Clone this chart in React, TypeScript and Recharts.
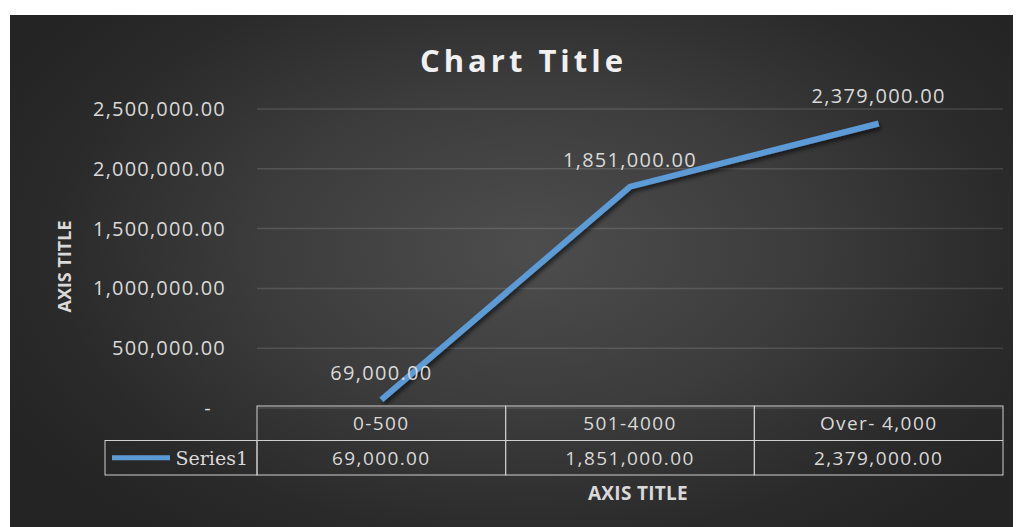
import React from 'react';
import { LineChart, Line, XAxis, YAxis, CartesianGrid, LabelList } from 'recharts';

const categories = ['0-500', '501-4000', 'Over- 4,000'];
const series1 = [69000, 1851000, 2379000];
const yTicks = [0, 500000, 1000000, 1500000, 2000000, 2500000];
const seriesName = 'Series1';
const chartTitle = 'Chart Title';
const xAxisTitle = 'AXIS TITLE';
const yAxisTitle = 'AXIS TITLE';

const data = categories.map((c, i) => ({ name: c, value: series1[i] }));

const fmt = (v: number) =>
  v.toLocaleString('en-US', { minimumFractionDigits: 2, maximumFractionDigits: 2 });

const W = 1003;
const H = 512;
const M_TOP = 94;
const Y_W = 247;
const X_H = 119;
const M_RIGHT = 10;
const BAND = (W - Y_W - M_RIGHT) / categories.length;
const LINE_COLOR = '#5B9BD5';
const TEXT = '#d9d9d9';
const BORDER = '#cfcfcf';
const FONT = '"Open Sans", sans-serif';

const YTick = (props: any) => {
  const { x, y, payload } = props;
  const v = payload.value as number;
  return (
    <text
      x={v === 0 ? x - 14 : x}
      y={y}
      dy={7}
      textAnchor="end"
      fill={TEXT}
      fontSize={20}
      fontFamily={FONT}
      letterSpacing={1.2}
    >
      {v === 0 ? '-' : fmt(v)}
    </text>
  );
};

const TableTick = (props: any) => {
  const { x, y, payload, index } = props;
  const top = y - 2;
  const rowH = 34.5;
  const left = x - BAND / 2;
  const val = series1[index];
  return (
    <g>
      <rect x={left} y={top} width={BAND} height={rowH * 2} fill="none" stroke={BORDER} strokeWidth={1} />
      <line x1={left} x2={left + BAND} y1={top + rowH} y2={top + rowH} stroke={BORDER} strokeWidth={1} />
      <text x={x} y={top + rowH / 2 + 7} textAnchor="middle" fill={TEXT} fontSize={19} fontFamily={FONT} letterSpacing={1.4}>
        {payload.value}
      </text>
      <text x={x} y={top + rowH * 1.5 + 7} textAnchor="middle" fill={TEXT} fontSize={19} fontFamily={FONT} letterSpacing={1.4}>
        {fmt(val)}
      </text>
      {index === 0 && (
        <g>
          <rect x={left - 152} y={top + rowH} width={152} height={rowH} fill="none" stroke={BORDER} strokeWidth={1} />
          <line x1={left - 145} x2={left - 87} y1={top + rowH * 1.5} y2={top + rowH * 1.5} stroke={LINE_COLOR} strokeWidth={5} />
          <text x={left - 9} y={top + rowH * 1.5 + 7} textAnchor="end" fill={TEXT} fontSize={19} fontFamily='"DejaVu Serif", serif'>
            {seriesName}
          </text>
        </g>
      )}
    </g>
  );
};

const PointLabel = (props: any) => {
  const { x, y, value } = props;
  return (
    <text x={x} y={y - 20} textAnchor="middle" fill={TEXT} fontSize={20} fontFamily={FONT} letterSpacing={1.3}>
      {fmt(value)}
    </text>
  );
};

export default function App() {
  return (
    <div
      style={{
        marginLeft: 2,
        marginTop: 7,
        width: W,
        height: 520,
        position: 'relative',
        background:
          'radial-gradient(ellipse 60% 70% at 52% 45%, #4d4d4d 0%, #3c3c3c 45%, #2a2a2a 80%, #242424 100%)',
      }}
    >
      <div
        style={{
          position: 'absolute',
          left: 0,
          width: W,
          top: 26,
          textAlign: 'center',
          color: '#f0f0f0',
          fontFamily: FONT,
          fontWeight: 700,
          fontSize: 31,
          letterSpacing: 4,
          lineHeight: '38px',
          paddingLeft: 24,
          boxSizing: 'border-box',
        }}
      >
        {chartTitle}
      </div>
      <LineChart
        width={W}
        height={H}
        data={data}
        margin={{ top: M_TOP, right: M_RIGHT, left: 0, bottom: 0 }}
        style={{ position: 'absolute', left: 0, top: 0 }}
      >
        <defs>
          <filter id="shadow" x="-10%" y="-10%" width="120%" height="120%">
            <feDropShadow dx="2" dy="3" stdDeviation="2" floodColor="#000" floodOpacity="0.6" />
          </filter>
        </defs>
        <CartesianGrid vertical={false} stroke="rgba(255,255,255,0.13)" strokeWidth={1.5} />
        <XAxis
          dataKey="name"
          height={X_H}
          axisLine={false}
          tickLine={false}
          tickSize={0}
          tickMargin={0}
          padding={{ left: BAND / 2, right: BAND / 2 }}
          tick={TableTick}
          interval={0}
          label={{
            content: (p: any) => {
              const vb = p.viewBox;
              return (
                <text
                  x={vb.x + vb.width / 2 + 8}
                  y={vb.y + 92}
                  textAnchor="middle"
                  fill={TEXT}
                  fontSize={19}
                  fontWeight={700}
                  fontFamily={FONT}
                  letterSpacing={0.3}
                >
                  {xAxisTitle}
                </text>
              );
            },
          }}
        />
        <YAxis
          width={Y_W}
          domain={[0, 2500000]}
          ticks={yTicks}
          axisLine={false}
          tickLine={false}
          tickSize={0}
          tickMargin={31}
          tick={YTick}
          label={{
            content: (p: any) => {
              const vb = p.viewBox;
              const cx = 54;
              const cy = vb.y + vb.height / 2 + 8;
              return (
                <text
                  x={cx}
                  y={cy}
                  transform={`rotate(-90 ${cx} ${cy})`}
                  textAnchor="middle"
                  dominantBaseline="central"
                  fill={TEXT}
                  fontSize={18}
                  fontWeight={700}
                  fontFamily={FONT}
                >
                  {yAxisTitle}
                </text>
              );
            },
          }}
        />
        <Line
          type="linear"
          dataKey="value"
          name={seriesName}
          stroke={LINE_COLOR}
          strokeWidth={6}
          dot={false}
          activeDot={false}
          isAnimationActive={false}
          filter="url(#shadow)"
        >
          <LabelList dataKey="value" content={PointLabel} />
        </Line>
      </LineChart>
    </div>
  );
}
